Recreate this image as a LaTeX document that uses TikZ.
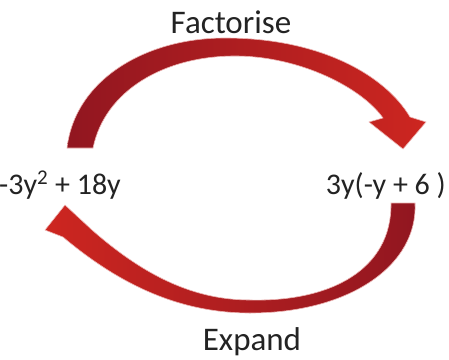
\documentclass[tikz,border=0pt]{standalone}
\usepackage{fontspec}
\setmainfont{Carlito}
\definecolor{arrdark}{RGB}{145,22,32}
\definecolor{arrlight}{RGB}{205,38,32}
\definecolor{txtgray}{RGB}{35,35,35}

\begin{document}
\begin{tikzpicture}[x=1pt,y=-1pt,
  lbl/.style={text=txtgray,inner sep=0pt,font=\fontsize{33}{40}\selectfont},
  eqn/.style={text=txtgray,inner sep=0pt,font=\fontsize{30}{36}\selectfont},
  bigarrow/.style={draw=arrlight!35,line width=0.6pt}]
\useasboundingbox (0,0) rectangle (449,359);
\fill[white] (0,0) rectangle (449,359);
\node[lbl,anchor=base] (fac) at (231,33) {Factorise};
\node[lbl,anchor=base] (exp) at (252,350) {Expand};
\node[eqn,anchor=base east] (lhs) at (121,194) {-3y\textsuperscript{2} + 18y};
\node[eqn,anchor=base east] (rhs) at (446,194) {3y(-y + 6 )};
\shade[bigarrow,left color=arrdark,right color=arrlight]
  (67,148) .. controls (75,80) and (145,38) .. (225,38)
  .. controls (320,38) and (385,75) .. (410,117)
  -- (426,122) -- (403,149) -- (369,122) -- (383,118)
  .. controls (362,88) and (300,56) .. (235,56)
  .. controls (165,56) and (105,90) .. (93,148) -- cycle;
\shade[bigarrow,left color=arrlight,right color=arrdark]
  (391,203) -- (415,203)
  .. controls (418,265) and (350,313) .. (250,313)
  .. controls (180,313) and (120,285) .. (63,237)
  -- (45,230) -- (65,205) -- (92,230)
  .. controls (140,272) and (190,300) .. (250,300)
  .. controls (330,302) and (392,270) .. (391,203) -- cycle;
\end{tikzpicture}
\end{document}
